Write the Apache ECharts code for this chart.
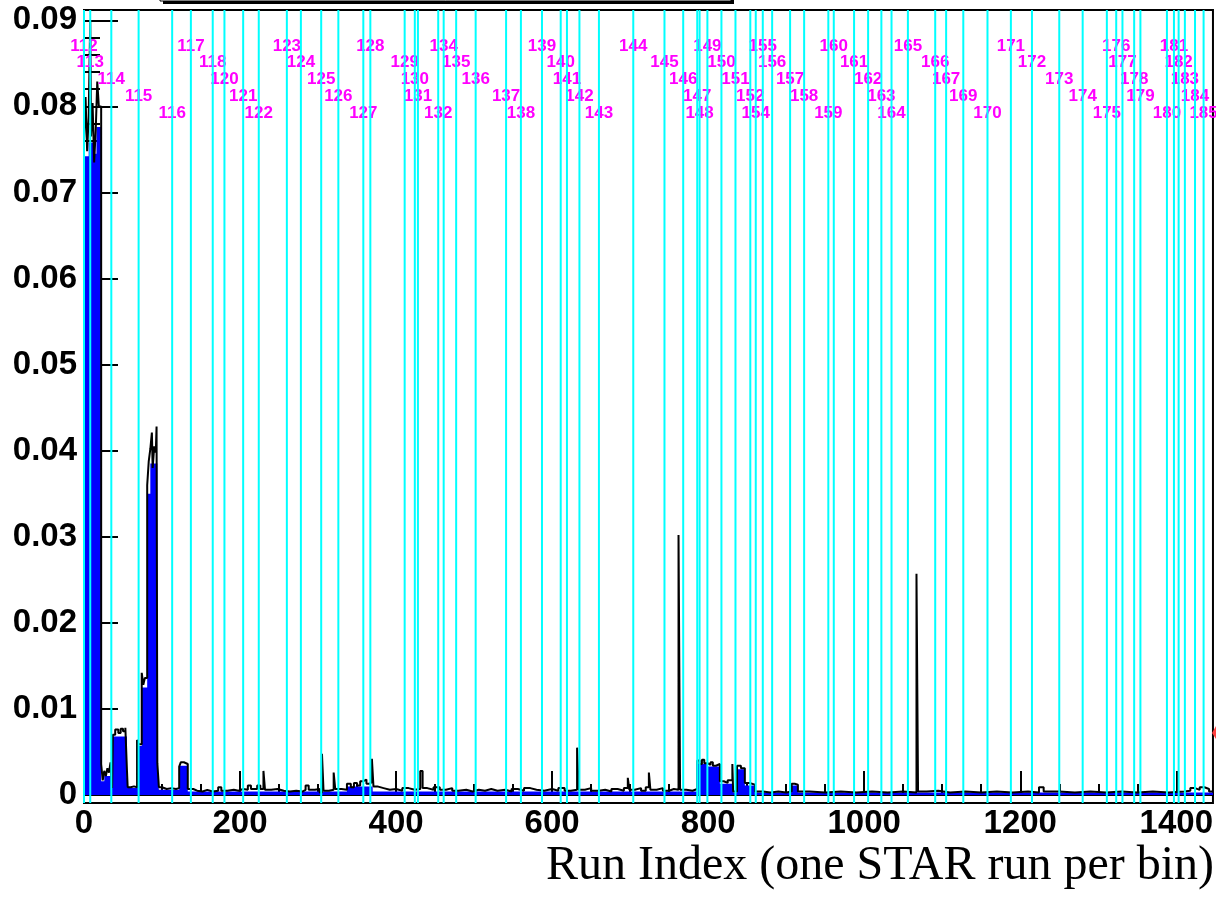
<!DOCTYPE html>
<html><head><meta charset="utf-8">
<script src="https://cdn.jsdelivr.net/npm/echarts@6/dist/echarts.min.js"></script>
<style>html,body{margin:0;padding:0;background:#fff}#c{width:1216px;height:899px}</style>
</head><body><div id="c"></div>
<script>
// ---- data ----
const xTickLabels = [0, 200, 400, 600, 800, 1000, 1200, 1400];
const yTickLabels = [0, 0.01, 0.02, 0.03, 0.04, 0.05, 0.06, 0.07, 0.08, 0.09];
const xRange = [0, 1447];
const yRange = [-0.00093, 0.0912];

// day number of each run-period boundary and the run index where it starts
const boundaryDays = [112,113,114,115,116,117,118,120,121,122,123,124,125,126,127,128,129,130,131,132,
  134,135,136,137,138,139,140,141,142,143,144,145,146,147,148,149,150,151,152,154,155,156,157,158,159,
  160,161,162,163,164,165,166,167,169,170,171,172,173,174,175,176,177,178,179,180,181,182,183,184,185];
const boundaryRuns = [0,8,35,70,113,137,165,180,204,224,260,278,304,326,358,367,411,424,428,454,
  461,477,502,541,560,587,611,619,635,660,704,744,768,786,789,799,817,835,854,861,870,882,905,923,954,
  961,987,1005,1022,1035,1056,1091,1105,1127,1158,1188,1215,1250,1280,1311,1323,1331,1346,1354,1388,1397,1403,1411,1424,1435];

// black outline histogram: [fromRun, toRun, value]
const lineSegments = [
  [0,2,0.0762],[2,4,0.0811],[4,6,0.0748],[6,8,0.0788],[8,9,0.0900],[9,11,0.0765],[11,13,0.0804],
  [13,15,0.0735],[15,17,0.0772],[17,19,0.0829],[19,22,0.0800],
  [22,24,0.0036],[24,26,0.0017],[26,28,0.0028],[28,30,0.0022],[30,32,0.0031],[32,34,0.0026],[34,36,0.0038],[36,37,0.0008],
  [37,40,0.0070],[40,44,0.0076],[44,47,0.0072],[47,50,0.0077],[50,53,0.0074],[53,55,0.0078],[55,56,0.0030],
  [56,60,0.0009],[60,64,0.0010],[64,68,0.0009],
  [68,70,0.0064],[70,74,0.0059],[74,76,0.0142],[76,78,0.0128],[78,81,0.0136],
  [81,83,0.0360],[83,85,0.0388],[85,87,0.0402],[87,88,0.0421],[88,90,0.0380],[90,92,0.0405],[92,93,0.0398],[93,94,0.0428],
  [94,96,0.0037],[96,100,0.0009],[100,106,0.0007],[106,112,0.0008],[112,118,0.0007],[118,122,0.0008],
  [122,124,0.0033],[124,128,0.0038],[128,133,0.0036],
  [133,140,0.0007],[140,145,0.0005],[145,152,0.0004],[152,158,0.0006],[158,165,0.0004],[165,172,0.0005],[172,176,0.0009],
  [176,184,0.0005],[184,192,0.0006],[192,198,0.0005],[198,204,0.0007],[204,210,0.0006],[210,214,0.0011],[214,222,0.0007],
  [222,226,0.0011],[226,230,0.0007],[230,232,0.0028],[232,240,0.0006],[240,248,0.0007],[248,256,0.0005],[256,264,0.0004],
  [264,272,0.0005],[272,280,0.0004],[280,284,0.0006],[284,288,0.0011],[288,296,0.0006],[296,302,0.0007],[302,305,0.0003],
  [305,307,0.0048],[307,314,0.0005],[314,320,0.0006],[320,322,0.0026],[322,330,0.0007],[330,337,0.0006],
  [337,342,0.0013],[342,346,0.0009],[346,350,0.0014],[350,354,0.0011],[354,358,0.0016],[358,362,0.0018],[362,366,0.0013],
  [366,369,0.0015],[369,371,0.0042],[371,376,0.0010],[376,384,0.0008],[384,392,0.0006],[392,400,0.0007],[400,408,0.0005],
  [408,416,0.0008],[416,424,0.0006],[424,431,0.0007],[431,434,0.0028],[434,440,0.0008],[440,448,0.0006],[448,456,0.0009],
  [456,464,0.0006],[464,472,0.0008],[472,480,0.0005],[480,490,0.0006],[490,498,0.0004],[498,506,0.0006],[506,514,0.0005],
  [514,522,0.0007],[522,530,0.0005],[530,540,0.0006],[540,548,0.0004],[548,556,0.0007],[556,564,0.0005],[564,572,0.0008],
  [572,580,0.0006],[580,590,0.0005],[590,600,0.0007],[600,608,0.0005],[608,616,0.0008],[616,624,0.0005],[624,632,0.0006],
  [632,634,0.0055],[634,642,0.0006],[642,650,0.0008],[650,660,0.0005],[660,668,0.0006],[668,676,0.0004],[676,684,0.0007],
  [684,692,0.0005],[692,697,0.0008],[697,699,0.0020],[699,706,0.0006],[706,714,0.0008],[714,720,0.0005],[720,724,0.0009],
  [724,726,0.0026],[726,734,0.0006],[734,742,0.0008],[742,750,0.0005],[750,756,0.0007],[756,762,0.0006],[762,764,0.0302],
  [764,772,0.0006],[772,780,0.0005],[780,786,0.0007],
  [786,789,0.0040],[789,792,0.0036],[792,795,0.0041],[795,799,0.0037],[799,803,0.0035],[803,806,0.0038],[806,810,0.0034],
  [810,815,0.0036],[815,820,0.0016],[820,825,0.0014],[825,831,0.0017],[831,832,0.0036],[832,837,0.0004],[837,842,0.0034],
  [842,847,0.0031],[847,853,0.0014],[853,860,0.0012],
  [860,870,0.0004],[870,880,0.0003],[880,890,0.0004],[890,900,0.0003],[900,907,0.0004],[907,911,0.0013],[911,915,0.0012],
  [915,930,0.0004],[930,950,0.0003],[950,970,0.0004],[970,990,0.0003],[990,1010,0.0004],[1010,1030,0.0003],[1030,1050,0.0004],
  [1050,1067,0.0003],[1067,1069,0.0257],[1069,1080,0.0004],[1080,1095,0.0005],[1095,1110,0.0003],[1110,1130,0.0004],
  [1130,1150,0.0003],[1150,1170,0.0004],[1170,1190,0.0003],[1190,1210,0.0004],[1210,1224,0.0003],[1224,1230,0.0009],
  [1230,1250,0.0004],[1250,1270,0.0003],[1270,1290,0.0004],[1290,1310,0.0003],[1310,1330,0.0004],[1330,1350,0.0003],
  [1350,1370,0.0004],[1370,1390,0.0003],[1390,1410,0.0004],[1410,1418,0.0005],[1418,1424,0.0008],[1424,1430,0.0006],
  [1430,1436,0.0009],[1436,1442,0.0007],[1442,1447,0.0004]
];

// blue filled histogram: [fromRun, toRun, value]
const fillSegments = [
  [0,6,0.0742],[6,12,0.0758],[12,16,0.0745],[16,22,0.0776],
  [22,26,0.0016],[26,34,0.0022],[34,37,0.0030],
  [37,55,0.0068],[55,56,0.0020],[56,68,0.0008],[68,74,0.0057],[74,81,0.0125],[81,85,0.0350],[85,94,0.0385],
  [94,96,0.0034],[96,122,0.0006],[122,133,0.0034],
  [133,337,0.0004],[337,370,0.0010],[370,786,0.0004],
  [786,799,0.0036],[799,815,0.0033],[815,831,0.0013],[831,832,0.0030],[832,837,0.0003],[837,847,0.0030],[847,860,0.0011],
  [860,907,0.0003],[907,915,0.0011],[915,1447,0.0003]
];

const xAxisTitle = 'Run Index (one STAR run per bin)';

// ---- build ----
function segsToPoints(segs) {
  const pts = [];
  segs.forEach(([a, b, v]) => { pts.push([a, v]); pts.push([b, v]); });
  return pts;
}
const xMinor = [];
for (let i = 1; i * 50 < xRange[1]; i++) if ((i * 50) % 200 !== 0) xMinor.push(i * 50);
const yMinor = [];
for (let i = 1; i <= 45; i++) if (i % 5 !== 0) yMinor.push(+(i * 0.002).toFixed(3));

const chart = echarts.init(document.getElementById('c'), null, {renderer: 'canvas'});
const labelFont = 'Liberation Sans, Arial, sans-serif';
const option = {
  animation: false,
  backgroundColor: '#fff',
  grid: {left: 84, right: 3, top: 10, bottom: 96, show: true, borderColor: '#000', borderWidth: 2, backgroundColor: 'transparent'},
  title: {text: xAxisTitle, right: 2, top: 842, padding: 0,
    textStyle: {fontFamily: 'Liberation Serif, Times New Roman, serif', fontWeight: 'normal', fontSize: 48, color: '#000'}},
  xAxis: [{
    type: 'value', min: xRange[0], max: xRange[1], position: 'bottom',
    axisLine: {show: true, lineStyle: {color: '#000', width: 2}},
    axisTick: {show: true, inside: true, length: 24, lineStyle: {color: '#000', width: 2}, customValues: xTickLabels},
    axisLabel: {show: true, customValues: xTickLabels, margin: 4, color: '#000', fontSize: 33, fontWeight: 'bold', fontFamily: labelFont,
      formatter: v => String(Math.round(v))},
    splitLine: {show: false}
  }, {
    type: 'value', min: xRange[0], max: xRange[1], position: 'bottom',
    axisLine: {show: false},
    axisTick: {show: true, inside: true, length: 11, lineStyle: {color: '#000', width: 2}, customValues: xMinor},
    axisLabel: {show: false}, splitLine: {show: false}
  }],
  yAxis: [{
    type: 'value', min: yRange[0], max: yRange[1], position: 'left',
    axisLine: {show: true, lineStyle: {color: '#000', width: 2}},
    axisTick: {show: true, inside: true, length: 34, lineStyle: {color: '#000', width: 2}, customValues: yTickLabels},
    axisLabel: {show: true, customValues: yTickLabels, margin: 7, color: '#000', fontSize: 33, fontWeight: 'bold', fontFamily: labelFont,
      formatter: v => (Math.abs(v) < 1e-9 ? '0' : v.toFixed(2))},
    splitLine: {show: false}
  }, {
    type: 'value', min: yRange[0], max: yRange[1], position: 'left', offset: 0,
    axisLine: {show: false},
    axisTick: {show: true, inside: true, length: 16, lineStyle: {color: '#000', width: 2}, customValues: yMinor},
    axisLabel: {show: false}, splitLine: {show: false}
  }],
  series: [{
    name: 'fill', type: 'line', data: segsToPoints(fillSegments), symbol: 'none', z: 2,
    lineStyle: {width: 0, color: '#0000ff'}, areaStyle: {color: '#0000ff', opacity: 1}
  }, {
    name: 'outline', type: 'line', data: segsToPoints(lineSegments), symbol: 'none', z: 3,
    lineStyle: {width: 2, color: '#000'}
  }, {
    name: 'dayLabels', type: 'custom', z: 4,
    data: boundaryRuns.map((r, i) => [r, 0, boundaryDays[i]]),
    encode: {x: 0, y: 1},
    renderItem: (params, api) => {
      const x = api.coord([api.value(0), 0])[0];
      const row = params.dataIndex % 5;
      return {type: 'text', style: {text: String(api.value(2)), x: x, y: 46 + row * 16.75,
        align: 'center', verticalAlign: 'middle', fill: '#ff00ff', font: 'bold 17px "Liberation Sans", Arial, sans-serif'}};
    }
  }, {
    name: 'dayLines', type: 'custom', z: 5,
    data: boundaryRuns.map(r => [r, 0]),
    encode: {x: 0, y: 1},
    renderItem: (params, api) => {
      const x = api.coord([api.value(0), 0])[0];
      const cs = params.coordSys;
      return {type: 'line', shape: {x1: x, y1: cs.y, x2: x, y2: cs.y + cs.height},
        style: {stroke: '#00ffff', lineWidth: 2}};
    }
  }],
  graphic: [
    {type: 'rect', shape: {x: 163, y: -40, width: 571, height: 44}, style: {fill: '#000'}, z: 100},
    {type: 'rect', shape: {x: 160, y: -40, width: 571, height: 41}, style: {fill: '#fff', stroke: '#000', lineWidth: 1}, z: 101},
    {type: 'polygon', shape: {points: [[1216, 726], [1212, 733], [1216, 739]]}, style: {fill: '#ff4040'}, z: 100}
  ]
};
chart.setOption(option);
</script></body></html>
